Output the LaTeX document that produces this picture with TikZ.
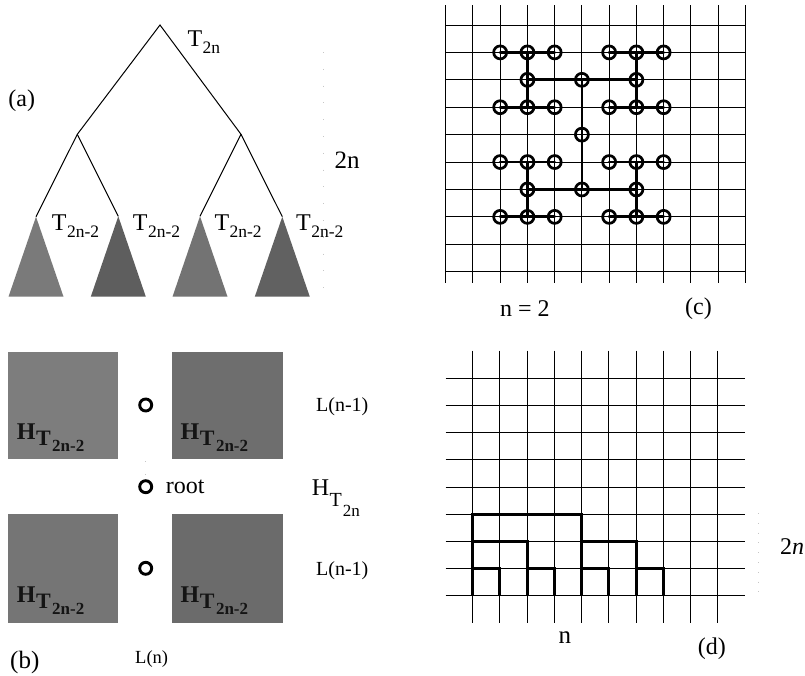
\documentclass[tikz,border=0pt]{standalone}
\usepackage{fontspec}
\setmainfont{Liberation Serif}
\newcommand\fsz[1]{\fontsize{#1}{#1}\selectfont}
\newcommand\TsubT[1]{T\kern0.5pt\raisebox{-7pt}{\fsz{17.5}#1}}
\newcommand\Hsq{\textbf{H}\kern0.5pt\raisebox{-6pt}{\fsz{22}\bfseries T\kern1.5pt\raisebox{-6.7pt}{\fsz{17}\bfseries 2n-2}}}
\tikzset{
  treeline/.style={line width=1pt},
  gridline/.style={line width=1pt},
  heavy/.style={line width=2.8pt, line cap=round},
  vtx/.style={circle, draw, line width=2.7pt, minimum size=13pt, inner sep=0pt},
  bvtx/.style={circle, draw, line width=2.9pt, minimum size=12pt, inner sep=0pt},
  lbl/.style={inner sep=0pt, anchor=base west, font=\fsz{24}},
  sqlbl/.style={inner sep=0pt, anchor=base west, font=\fsz{24}, text=black!92},
  faint/.style={gray!45, line width=0.8pt},
}
\begin{document}
\begin{tikzpicture}[x=1pt,y=-1pt]
\useasboundingbox[fill=white] (0,0) rectangle (805,675);

% ---------------- (a) tree ----------------
\coordinate (r) at (160,25);
\coordinate (a1) at (77.3,134.3);
\coordinate (a2) at (241,134.3);
\coordinate (t1) at (36,216.7);
\coordinate (t2) at (118.3,216.3);
\coordinate (t3) at (200,216.3);
\coordinate (t4) at (282.3,216.7);
\fill[black!52] (t1) -- ++(-27.5,80) -- ++(55,0) -- cycle;
\fill[black!63] (t2) -- ++(-27.5,80.4) -- ++(55,0) -- cycle;
\fill[black!55] (t3) -- ++(-27.5,80.4) -- ++(55,0) -- cycle;
\fill[black!62] (t4) -- ++(-27.5,80) -- ++(55,0) -- cycle;
\draw[treeline] (t1) -- (a1) -- (r) -- (a2) -- (t3);
\draw[treeline] (a1) -- (t2);
\draw[treeline] (a2) -- (t4);
\node[lbl] (lT) at (187.3,46.7) {\TsubT{2n}};
\node[lbl] (la) at (8.3,106) {(a)};
\node[lbl, font=\fsz{25}] (l2n) at (334.3,168.3) {2n};
\node[lbl] (lt1) at (51.7,230) {\TsubT{2n-2}};
\node[lbl] (lt2) at (132.7,230) {\TsubT{2n-2}};
\node[lbl] (lt3) at (214.3,230) {\TsubT{2n-2}};
\node[lbl] (lt4) at (296,230) {\TsubT{2n-2}};
\draw[faint, dash pattern=on 0.8pt off 16pt] (323,52) -- (323,296);

% ---------------- (b) H-layout ----------------
\fill[black!51] (8.3,351.7) rectangle (118.3,459);
\fill[black!57] (172.3,351.7) rectangle (282.7,459);
\fill[black!54] (8.3,514) rectangle (118.3,623.3);
\fill[black!58] (172.3,514) rectangle (282.7,623.3);
\node[sqlbl] (h1) at (16.7,439) {\Hsq};
\node[sqlbl] (h2) at (180.5,439) {\Hsq};
\node[sqlbl] (h3) at (16.7,602) {\Hsq};
\node[sqlbl] (h4) at (180.5,602) {\Hsq};
\node[bvtx] (b1) at (145.7,405) {};
\node[bvtx] (root) at (145.7,486.7) {};
\node[bvtx] (b3) at (145.7,568.3) {};
\node[lbl] (lroot) at (165.7,493.3) {root};
\node[lbl, font=\fsz{20}] (lL1) at (316,411.7) {L(n-1)};
\node[lbl, font=\fsz{20}] (lL2) at (316,575) {L(n-1)};
\node[lbl] (lH) at (311.7,495) {H\kern0.5pt\raisebox{-11.7pt}{\fsz{20}T\kern1pt\raisebox{-10pt}{\fsz{17}2n}}};
\node[lbl, font=\fsz{25}] (lb) at (10,668) {(b)};
\node[lbl, font=\fsz{18.5}] (lLn) at (135,663.3) {L(n)};
\draw[faint, dash pattern=on 0.8pt off 12pt] (145.7,461) -- (145.7,475);

% ---------------- (c) grid with H-tree ----------------
\foreach \i in {0,...,11}
  \draw[gridline] ({445.7+27.24*\i},5) -- ({445.7+27.24*\i},283);
\foreach \j in {0,...,9}
  \draw[gridline] (445.7,{25+27.41*\j}) -- (745.3,{25+27.41*\j});
\foreach \i in {2,3,4,6,7,8}
  \foreach \j in {1,3,5,7}
    \node[vtx] (c-\i-\j) at ({445.7+27.24*\i},{25+27.41*\j}) {};
\foreach \i/\j in {3/2,5/2,7/2,5/4,3/6,5/6,7/6}
  \node[vtx] (c-\i-\j) at ({445.7+27.24*\i},{25+27.41*\j}) {};
\foreach \j in {1,3,5,7} {
  \draw[heavy] (c-2-\j.center) -- (c-3-\j.center) -- (c-4-\j.center);
  \draw[heavy] (c-6-\j.center) -- (c-7-\j.center) -- (c-8-\j.center);
}
\draw[heavy] (c-3-2.center) -- (c-5-2.center) -- (c-7-2.center);
\draw[heavy] (c-3-6.center) -- (c-5-6.center) -- (c-7-6.center);
\draw[heavy] (c-3-1.center) -- (c-3-2.center) -- (c-3-3.center);
\draw[heavy] (c-7-1.center) -- (c-7-2.center) -- (c-7-3.center);
\draw[heavy] (c-5-2.center) -- (c-5-4.center) -- (c-5-6.center);
\draw[heavy] (c-3-5.center) -- (c-3-6.center) -- (c-3-7.center);
\draw[heavy] (c-7-5.center) -- (c-7-6.center) -- (c-7-7.center);
\node[lbl] (ln2) at (500,316) {n = 2};
\node[lbl] (lc) at (685,314) {(c)};

% ---------------- (d) grid with staircase ----------------
\foreach \k in {0,...,9}
  \draw[gridline] ({472.7+27.24*\k},350.7) -- ({472.7+27.24*\k},623.3);
\foreach \r in {0,...,8}
  \draw[gridline] (445.7,{378.3+27.18*\r}) -- (745.3,{378.3+27.18*\r});
\begin{scope}[shift={(472.7,378.3)}, x=27.24pt, y=-27.18pt]
  \draw[line width=2.9pt, line join=miter] (0,8) -- (0,5) -- (4,5) -- (4,8);
  \draw[line width=2.9pt] (0,6) -- (2,6) -- (2,8);
  \draw[line width=2.9pt] (4,6) -- (6,6) -- (6,8);
  \draw[line width=2.9pt] (0,7) -- (1,7) -- (1,8);
  \draw[line width=2.9pt] (2,7) -- (3,7) -- (3,8);
  \draw[line width=2.9pt] (4,7) -- (5,7) -- (5,8);
  \draw[line width=2.9pt] (6,7) -- (7,7) -- (7,8);
\end{scope}
\draw[faint, dash pattern=on 0.8pt off 9pt] (758,513) -- (758,594);
\node[lbl] (ld2n) at (780,554) {2\textit{n}};
\node[lbl, font=\fsz{25}] (ldn) at (558.3,643.3) {n};
\node[lbl] (ld) at (697.7,654) {(d)};
\end{tikzpicture}
\end{document}
